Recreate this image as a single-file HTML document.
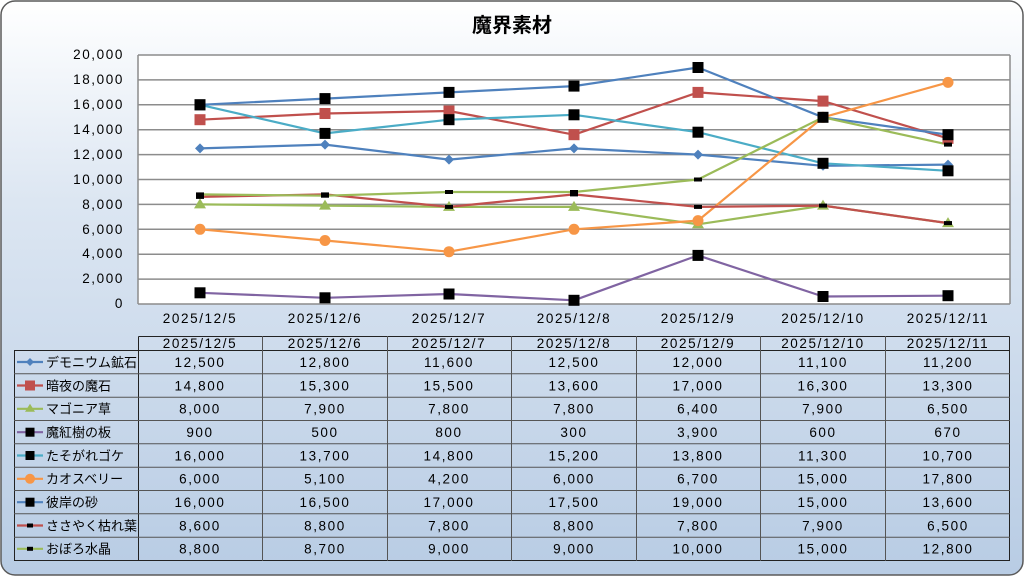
<!DOCTYPE html>
<html><head><meta charset="utf-8"><style>
html,body{margin:0;padding:0;background:#fff;}
svg{display:block;font-family:"Liberation Sans","Noto Sans CJK JP",sans-serif;}
.n{letter-spacing:1.6px;font-size:13.5px;}
</style></head><body>
<svg width="1024" height="576" viewBox="0 0 1024 576" xmlns="http://www.w3.org/2000/svg">
<defs>
<linearGradient id="bg" x1="0" y1="0" x2="0" y2="1">
<stop offset="0" stop-color="#ffffff"/><stop offset="0.35" stop-color="#dce6f2"/><stop offset="1" stop-color="#b8cce4"/>
</linearGradient>
<g id="sq"><rect x="-5.5" y="-5.5" width="11" height="11" fill="#000"/></g>
<g id="ds"><rect x="-4" y="-2" width="8" height="4" fill="#000"/></g>
</defs>
<rect x="1" y="1" width="1022" height="574" rx="14" fill="url(#bg)" stroke="#5a5a5a" stroke-width="1.5"/>
<text x="512" y="32" text-anchor="middle" font-size="20" font-weight="bold" fill="#000">魔界素材</text>
<rect x="138" y="55" width="872" height="249" fill="#fff"/>
<g stroke="#8c8c8c" stroke-width="1.5">
<line x1="138" x2="1010" y1="55" y2="55"/><line x1="138" x2="1010" y1="79.9" y2="79.9"/><line x1="138" x2="1010" y1="104.8" y2="104.8"/><line x1="138" x2="1010" y1="129.7" y2="129.7"/><line x1="138" x2="1010" y1="154.6" y2="154.6"/><line x1="138" x2="1010" y1="179.5" y2="179.5"/><line x1="138" x2="1010" y1="204.4" y2="204.4"/><line x1="138" x2="1010" y1="229.3" y2="229.3"/><line x1="138" x2="1010" y1="254.2" y2="254.2"/><line x1="138" x2="1010" y1="279.1" y2="279.1"/><line x1="138" x2="1010" y1="304" y2="304"/>
<line x1="138" x2="138" y1="55" y2="304"/><line x1="1010" x2="1010" y1="55" y2="304"/>
</g>
<g class="n" fill="#000" text-anchor="end">
<text x="124" y="59">20,000</text><text x="124" y="84">18,000</text><text x="124" y="109">16,000</text><text x="124" y="134">14,000</text><text x="124" y="159">12,000</text><text x="124" y="184">10,000</text><text x="124" y="209">8,000</text><text x="124" y="234">6,000</text><text x="124" y="258">4,000</text><text x="124" y="283">2,000</text><text x="124" y="308">0</text>
</g>
<g class="n" fill="#000" text-anchor="middle">
<text x="200" y="323">2025/12/5</text><text x="325" y="323">2025/12/6</text><text x="449" y="323">2025/12/7</text><text x="574" y="323">2025/12/8</text><text x="698" y="323">2025/12/9</text><text x="823" y="323">2025/12/10</text><text x="948" y="323">2025/12/11</text>
</g>
<g fill="none" stroke-width="2.2" stroke-linejoin="round">
<polyline stroke="#4f81bd" points="200,148.4 325,144.6 449,159.6 574,148.4 698,154.6 823,165.8 948,164.6"/>
<polyline stroke="#c0504d" points="200,119.7 325,113.5 449,111 574,134.7 698,92.4 823,101.1 948,138.4"/>
<polyline stroke="#9bbb59" points="200,204.4 325,205.6 449,206.9 574,206.9 698,224.3 823,205.6 948,223.1"/>
<polyline stroke="#8064a2" points="200,292.8 325,297.8 449,294 574,300.3 698,255.4 823,296.5 948,295.7"/>
<polyline stroke="#4bacc6" points="200,104.8 325,133.4 449,119.7 574,114.8 698,132.2 823,163.3 948,170.8"/>
<polyline stroke="#f79646" points="200,229.3 325,240.5 449,251.7 574,229.3 698,220.6 823,117.3 948,82.4"/>
<polyline stroke="#4f81bd" points="200,104.8 325,98.6 449,92.4 574,86.1 698,67.5 823,117.3 948,134.7"/>
<polyline stroke="#c0504d" points="200,196.9 325,194.4 449,206.9 574,194.4 698,206.9 823,205.6 948,223.1"/>
<polyline stroke="#9bbb59" points="200,194.4 325,195.7 449,192 574,192 698,179.5 823,117.3 948,144.6"/>
</g>
<g fill="#4f81bd">
<path d="M200,143.4l5,5l-5,5l-5,-5z"/><path d="M325,139.6l5,5l-5,5l-5,-5z"/><path d="M449,154.6l5,5l-5,5l-5,-5z"/><path d="M574,143.4l5,5l-5,5l-5,-5z"/><path d="M698,149.6l5,5l-5,5l-5,-5z"/><path d="M823,160.8l5,5l-5,5l-5,-5z"/><path d="M948,159.6l5,5l-5,5l-5,-5z"/>
</g>
<g fill="#c0504d">
<rect x="194.5" y="114.2" width="11" height="11"/><rect x="319.5" y="108" width="11" height="11"/><rect x="443.5" y="105.5" width="11" height="11"/><rect x="568.5" y="129.2" width="11" height="11"/><rect x="692.5" y="86.9" width="11" height="11"/><rect x="817.5" y="95.6" width="11" height="11"/><rect x="942.5" y="132.9" width="11" height="11"/>
</g>
<g fill="#9bbb59">
<path d="M200,198.4l6,10h-12z"/><path d="M325,199.6l6,10h-12z"/><path d="M449,200.9l6,10h-12z"/><path d="M574,200.9l6,10h-12z"/><path d="M698,218.3l6,10h-12z"/><path d="M823,199.6l6,10h-12z"/><path d="M948,217.1l6,10h-12z"/>
</g>
<g fill="#f79646">
<circle cx="200" cy="229.3" r="5.5"/><circle cx="325" cy="240.5" r="5.5"/><circle cx="449" cy="251.7" r="5.5"/><circle cx="574" cy="229.3" r="5.5"/><circle cx="698" cy="220.6" r="5.5"/><circle cx="823" cy="117.3" r="5.5"/><circle cx="948" cy="82.4" r="5.5"/>
</g>
<g>
<use href="#sq" x="200" y="292.8"/><use href="#sq" x="325" y="297.8"/><use href="#sq" x="449" y="294"/><use href="#sq" x="574" y="300.3"/><use href="#sq" x="698" y="255.4"/><use href="#sq" x="823" y="296.5"/><use href="#sq" x="948" y="295.7"/>
<use href="#sq" x="200" y="104.8"/><use href="#sq" x="325" y="133.4"/><use href="#sq" x="449" y="119.7"/><use href="#sq" x="574" y="114.8"/><use href="#sq" x="698" y="132.2"/><use href="#sq" x="823" y="163.3"/><use href="#sq" x="948" y="170.8"/>
<use href="#sq" x="200" y="104.8"/><use href="#sq" x="325" y="98.6"/><use href="#sq" x="449" y="92.4"/><use href="#sq" x="574" y="86.1"/><use href="#sq" x="698" y="67.5"/><use href="#sq" x="823" y="117.3"/><use href="#sq" x="948" y="134.7"/>
<use href="#ds" x="200" y="196.9"/><use href="#ds" x="325" y="194.4"/><use href="#ds" x="449" y="206.9"/><use href="#ds" x="574" y="194.4"/><use href="#ds" x="698" y="206.9"/><use href="#ds" x="823" y="205.6"/><use href="#ds" x="948" y="223.1"/>
<use href="#ds" x="200" y="194.4"/><use href="#ds" x="325" y="195.7"/><use href="#ds" x="449" y="192"/><use href="#ds" x="574" y="192"/><use href="#ds" x="698" y="179.5"/><use href="#ds" x="823" y="117.3"/><use href="#ds" x="948" y="144.6"/>
</g>
<g stroke="#222" stroke-width="1" fill="none">
<rect x="14.5" y="350.5" width="995" height="210"/>
<line x1="138.5" y1="336.5" x2="1009.5" y2="336.5"/>
<line x1="138.5" y1="336.5" x2="138.5" y2="560.5"/>
<line x1="1009.5" y1="336.5" x2="1009.5" y2="350.5"/>
</g>
<g stroke="#555" stroke-width="1">
<line x1="262.5" y1="336" x2="262.5" y2="561"/><line x1="387.5" y1="336" x2="387.5" y2="561"/><line x1="511.5" y1="336" x2="511.5" y2="561"/><line x1="636.5" y1="336" x2="636.5" y2="561"/><line x1="760.5" y1="336" x2="760.5" y2="561"/><line x1="885.5" y1="336" x2="885.5" y2="561"/>
<line x1="14" x2="1010" y1="373.8" y2="373.8"/><line x1="14" x2="1010" y1="397.2" y2="397.2"/><line x1="14" x2="1010" y1="420.5" y2="420.5"/><line x1="14" x2="1010" y1="443.8" y2="443.8"/><line x1="14" x2="1010" y1="467.2" y2="467.2"/><line x1="14" x2="1010" y1="490.5" y2="490.5"/><line x1="14" x2="1010" y1="513.8" y2="513.8"/><line x1="14" x2="1010" y1="537.2" y2="537.2"/>
</g>
<g class="n" fill="#000" text-anchor="middle">
<text x="200" y="348">2025/12/5</text><text x="325" y="348">2025/12/6</text><text x="449" y="348">2025/12/7</text><text x="574" y="348">2025/12/8</text><text x="698" y="348">2025/12/9</text><text x="823" y="348">2025/12/10</text><text x="948" y="348">2025/12/11</text>
</g>
<g class="n" fill="#000" text-anchor="middle">
<g transform="translate(0,367)"><text x="200">12,500</text><text x="325">12,800</text><text x="449">11,600</text><text x="574">12,500</text><text x="698">12,000</text><text x="823">11,100</text><text x="948">11,200</text></g>
<g transform="translate(0,390.3)"><text x="200">14,800</text><text x="325">15,300</text><text x="449">15,500</text><text x="574">13,600</text><text x="698">17,000</text><text x="823">16,300</text><text x="948">13,300</text></g>
<g transform="translate(0,413.7)"><text x="200">8,000</text><text x="325">7,900</text><text x="449">7,800</text><text x="574">7,800</text><text x="698">6,400</text><text x="823">7,900</text><text x="948">6,500</text></g>
<g transform="translate(0,437)"><text x="200">900</text><text x="325">500</text><text x="449">800</text><text x="574">300</text><text x="698">3,900</text><text x="823">600</text><text x="948">670</text></g>
<g transform="translate(0,460.3)"><text x="200">16,000</text><text x="325">13,700</text><text x="449">14,800</text><text x="574">15,200</text><text x="698">13,800</text><text x="823">11,300</text><text x="948">10,700</text></g>
<g transform="translate(0,483.7)"><text x="200">6,000</text><text x="325">5,100</text><text x="449">4,200</text><text x="574">6,000</text><text x="698">6,700</text><text x="823">15,000</text><text x="948">17,800</text></g>
<g transform="translate(0,507)"><text x="200">16,000</text><text x="325">16,500</text><text x="449">17,000</text><text x="574">17,500</text><text x="698">19,000</text><text x="823">15,000</text><text x="948">13,600</text></g>
<g transform="translate(0,530.3)"><text x="200">8,600</text><text x="325">8,800</text><text x="449">7,800</text><text x="574">8,800</text><text x="698">7,800</text><text x="823">7,900</text><text x="948">6,500</text></g>
<g transform="translate(0,553.7)"><text x="200">8,800</text><text x="325">8,700</text><text x="449">9,000</text><text x="574">9,000</text><text x="698">10,000</text><text x="823">15,000</text><text x="948">12,800</text></g>
</g>
<g stroke-width="2.2">
<line x1="17" x2="43" y1="362" y2="362" stroke="#4f81bd"/><path d="M30,358l4,4l-4,4l-4,-4z" fill="#4f81bd"/>
<line x1="17" x2="43" y1="385.5" y2="385.5" stroke="#c0504d"/><rect x="25" y="380.5" width="10" height="10" fill="#c0504d"/>
<line x1="17" x2="43" y1="408.8" y2="408.8" stroke="#9bbb59"/><path d="M30,403.8l5,8h-10z" fill="#9bbb59"/>
<line x1="17" x2="43" y1="432.2" y2="432.2" stroke="#8064a2"/><rect x="25.5" y="427.7" width="9" height="9" fill="#000"/>
<line x1="17" x2="43" y1="455.5" y2="455.5" stroke="#4bacc6"/><rect x="25.5" y="451" width="9" height="9" fill="#000"/>
<line x1="17" x2="43" y1="478.8" y2="478.8" stroke="#f79646"/><circle cx="30" cy="478.8" r="5" fill="#f79646"/>
<line x1="17" x2="43" y1="502.2" y2="502.2" stroke="#4f81bd"/><rect x="25.5" y="497.7" width="9" height="9" fill="#000"/>
<line x1="17" x2="43" y1="525.5" y2="525.5" stroke="#c0504d"/><rect x="27" y="523.5" width="6" height="4" fill="#000"/>
<line x1="17" x2="43" y1="548.8" y2="548.8" stroke="#9bbb59"/><rect x="27" y="546.8" width="6" height="4" fill="#000"/>
</g>
<g font-size="13" fill="#000">
<text x="46" y="367">デモニウム鉱石</text><text x="46" y="390.3">暗夜の魔石</text><text x="46" y="413.7">マゴニア草</text><text x="46" y="437">魔紅樹の板</text><text x="46" y="460.3">たそがれゴケ</text><text x="46" y="483.7">カオスベリー</text><text x="46" y="507">彼岸の砂</text><text x="46" y="530.3">ささやく枯れ葉</text><text x="46" y="553.7">おぼろ水晶</text>
</g>
</svg>
</body></html>
